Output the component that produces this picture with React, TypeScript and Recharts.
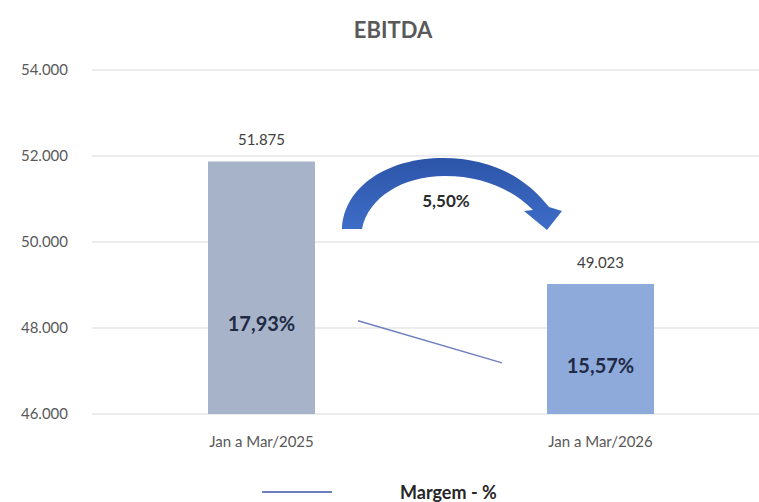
import { ComposedChart, Bar, Line, XAxis, YAxis, CartesianGrid, LabelList, Legend, Cell } from 'recharts'

const periodos = ['Jan a Mar/2025', 'Jan a Mar/2026']
const ebitda = [51875, 49023]
const margem = [17.93, 15.57]
const yTicks = [46000, 48000, 50000, 52000, 54000]
const variacao = '5,50%'
const barColors = ['#a7b3c9', '#8eaadb']

const data = periodos.map((periodo, i) => ({
  periodo,
  ebitda: ebitda[i],
  margem: margem[i],
}))

const font = 'Lato, "Open Sans", sans-serif'

const milhar = (n: number) => String(n).replace(/\B(?=(\d{3})+(?!\d))/g, '.')
const pct = (v: number) => v.toFixed(2).replace('.', ',') + '%'

const MargemLabel = (props: any) => {
  const { x, y, value } = props
  return (
    <text
      x={x}
      y={y}
      dy={2}
      textAnchor="middle"
      dominantBaseline="central"
      fontSize={20}
      fontWeight={700}
      fill="#1f2b45"
      fontFamily={font}
    >
      {pct(value)}
    </text>
  )
}

const renderLegend = (props: any) => {
  const items = (props.payload || []).filter((p: any) => p.value === 'Margem - %')
  return (
    <div style={{ display: 'flex', alignItems: 'center', paddingLeft: 262, fontFamily: font }}>
      {items.map((item: any) => (
        <div key={item.value} style={{ display: 'flex', alignItems: 'center' }}>
          <div style={{ width: 70, height: 2, background: item.color }} />
          <span style={{ marginLeft: 68, fontSize: 18, fontWeight: 700, color: '#262626' }}>{item.value}</span>
        </div>
      ))}
    </div>
  )
}

export default function App() {
  return (
    <div style={{ position: 'fixed', left: 0, top: 0, width: 759, height: 502, overflow: 'hidden', background: '#fff' }}>
      <ComposedChart
        width={780}
        height={502}
        data={data}
        margin={{ top: 70, right: 10, left: 0, bottom: 58 }}
      >
        <CartesianGrid vertical={false} stroke="#d9d9d9" />
        <XAxis
          dataKey="periodo"
          axisLine={false}
          tickLine={false}
          tickSize={0}
          tickMargin={22}
          tick={{ fontSize: 15, fill: '#595959', fontFamily: font }}
        />
        <XAxis xAxisId="m" dataKey="periodo" scale="point" padding={{ left: 266, right: 268 }} hide />
        <YAxis
          domain={[46000, 54000]}
          ticks={yTicks}
          width={92}
          axisLine={false}
          tickLine={false}
          tickSize={0}
          tickMargin={24}
          tickFormatter={milhar}
          tick={{ fontSize: 15, fill: '#595959', fontFamily: font }}
        />
        <YAxis yAxisId="m" orientation="right" domain={[12.7, 32]} hide />
        <Bar dataKey="ebitda" barSize={107} isAnimationActive={false} legendType="none">
          {data.map((d, i) => (
            <Cell key={d.periodo} fill={barColors[i]} />
          ))}
          <LabelList
            dataKey="ebitda"
            position="top"
            offset={16}
            formatter={(v: any) => milhar(v)}
            style={{ fontSize: 15, fill: '#404040', fontFamily: font }}
          />
        </Bar>
        <Line
          yAxisId="m"
          dataKey="margem"
          stroke="none"
          dot={false}
          activeDot={false}
          legendType="none"
          isAnimationActive={false}
        >
          <LabelList dataKey="margem" content={MargemLabel} />
        </Line>
        <Line
          xAxisId="m"
          yAxisId="m"
          dataKey="margem"
          name="Margem - %"
          stroke="#6e7fc0"
          strokeWidth={1.5}
          dot={false}
          activeDot={false}
          isAnimationActive={false}
        />
        <Legend
          verticalAlign="middle"
          align="center"
          content={renderLegend}
          wrapperStyle={{ top: 481, left: 0, width: 780 }}
        />
      </ComposedChart>
      <svg
        width={759}
        height={502}
        style={{ position: 'absolute', left: 0, top: 0, pointerEvents: 'none' }}
      >
        <defs>
          <linearGradient id="seta" x1="0" y1="0" x2="0" y2="1">
            <stop offset="0%" stopColor="#2c55a8" />
            <stop offset="100%" stopColor="#3e6dc8" />
          </linearGradient>
        </defs>
        <text x={393} y={38} textAnchor="middle" fontSize={22} fontWeight={700} fill="#595959" fontFamily={font}>
          EBITDA
        </text>
        <path
          d="M 342 229 C 344 186, 388 158, 443 158 C 492 158, 526 178, 549 207 L 562 211 L 547 230 L 524 211 L 533 210 C 512 189, 482 176, 445 176 C 402 176, 368 198, 362 229 Z"
          fill="url(#seta)"
        />
        <text x={446} y={200} textAnchor="middle" dominantBaseline="central" fontSize={17} fontWeight={700} fill="#2b2b2b" fontFamily={font}>
          {variacao}
        </text>
      </svg>
    </div>
  )
}
